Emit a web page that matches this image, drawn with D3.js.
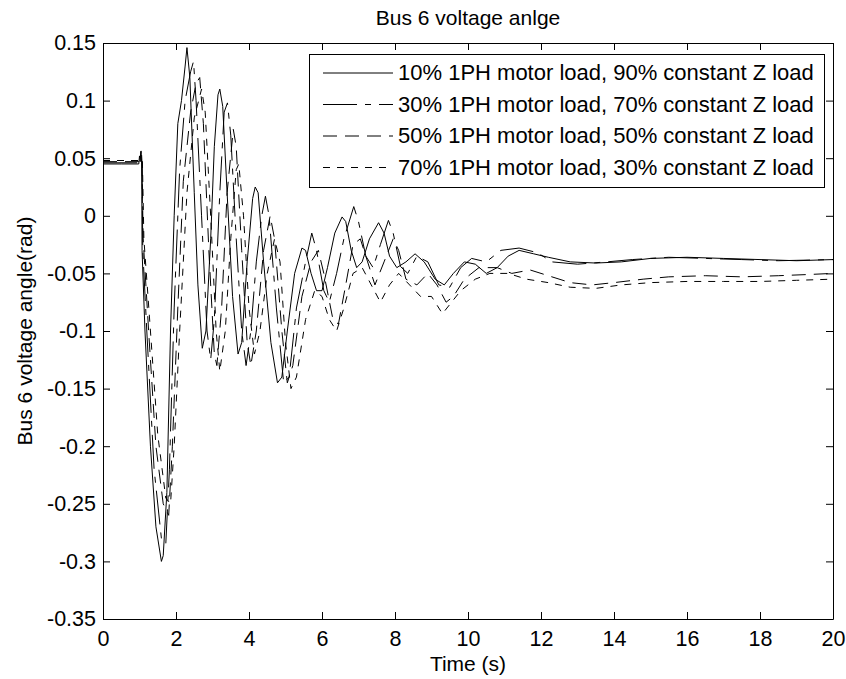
<!DOCTYPE html>
<html>
<head>
<meta charset="utf-8">
<script src="https://cdn.jsdelivr.net/npm/d3@7"></script>
<style>
  body { margin: 0; background: #fff; }
  svg { display: block; font-family: Arial, "Liberation Sans", sans-serif; }
</style>
</head>
<body>
<div id="chart"></div>
<script>
// series: [time (s), angle (rad)]
const s10 = [[0,0.045],[0.5,0.045],[0.98,0.045],[1.0,0.052],[1.02,0.047],[1.04,0.056],[1.06,0.045],[1.07,-0.03],[1.15,-0.1],[1.3,-0.2],[1.45,-0.27],[1.6,-0.30],[1.65,-0.295],[1.75,-0.24],[1.85,-0.1],[1.95,0.0],[2.05,0.08],[2.15,0.1],[2.25,0.13],[2.3,0.146],[2.38,0.12],[2.5,0.02],[2.6,-0.06],[2.72,-0.115],[2.82,-0.1],[2.95,-0.02],[3.05,0.06],[3.15,0.105],[3.2,0.11],[3.28,0.095],[3.4,0.02],[3.55,-0.07],[3.7,-0.12],[3.8,-0.11],[3.95,-0.04],[4.1,0.015],[4.17,0.025],[4.25,0.02],[4.4,-0.04],[4.6,-0.11],[4.78,-0.145],[4.9,-0.14],[5.05,-0.1],[5.25,-0.05],[5.45,-0.028],[5.55,-0.03],[5.7,-0.05],[5.85,-0.065],[6.0,-0.065],[6.15,-0.045],[6.35,-0.015],[6.55,-0.001],[6.65,-0.005],[6.8,-0.03],[6.95,-0.045],[7.1,-0.04],[7.3,-0.02],[7.55,-0.006],[7.7,-0.015],[7.85,-0.035],[8.05,-0.045],[8.3,-0.04],[8.55,-0.033],[8.8,-0.04],[9.1,-0.055],[9.35,-0.06],[9.6,-0.05],[9.9,-0.04],[10.2,-0.042],[10.5,-0.05],[10.8,-0.045],[11.1,-0.035],[11.4,-0.03],[11.8,-0.033],[12.2,-0.036],[12.8,-0.04],[13.5,-0.041],[14.2,-0.04],[15.0,-0.037],[16.0,-0.036],[17.0,-0.037],[18.0,-0.038],[19.0,-0.039],[20,-0.038]];

const s30 = [[0,0.046],[0.98,0.046],[1.02,0.05],[1.05,0.058],[1.07,0.045],[1.09,-0.03],[1.2,-0.1],[1.4,-0.22],[1.6,-0.28],[1.72,-0.285],[1.82,-0.22],[1.95,-0.08],[2.1,0.04],[2.25,0.1],[2.4,0.125],[2.48,0.134],[2.55,0.1],[2.7,0.0],[2.85,-0.1],[2.95,-0.125],[3.05,-0.09],[3.2,0.02],[3.32,0.09],[3.41,0.098],[3.5,0.07],[3.65,-0.02],[3.8,-0.1],[3.92,-0.13],[4.05,-0.1],[4.2,-0.04],[4.35,0.0],[4.45,0.017],[4.55,0.0],[4.75,-0.08],[4.95,-0.145],[5.1,-0.14],[5.3,-0.08],[5.55,-0.04],[5.72,-0.015],[5.85,-0.03],[6.05,-0.065],[6.2,-0.075],[6.4,-0.05],[6.6,-0.02],[6.87,0.008],[7.0,-0.005],[7.2,-0.035],[7.4,-0.045],[7.6,-0.025],[7.82,-0.004],[7.95,-0.015],[8.15,-0.044],[8.35,-0.05],[8.6,-0.035],[8.9,-0.04],[9.2,-0.06],[9.5,-0.062],[9.8,-0.045],[10.1,-0.037],[10.5,-0.04],[10.9,-0.03],[11.4,-0.028],[11.9,-0.032],[12.3,-0.04],[13.0,-0.042],[13.8,-0.04],[14.5,-0.038],[15.5,-0.036],[16.5,-0.037],[17.5,-0.038],[18.5,-0.039],[20,-0.038]];

const s50 = [[0,0.047],[0.98,0.047],[1.03,0.05],[1.07,0.046],[1.1,-0.02],[1.25,-0.1],[1.45,-0.2],[1.65,-0.25],[1.8,-0.26],[1.9,-0.2],[2.05,-0.08],[2.2,0.03],[2.4,0.09],[2.55,0.115],[2.65,0.12],[2.75,0.08],[2.9,-0.03],[3.05,-0.12],[3.12,-0.13],[3.25,-0.08],[3.4,0.02],[3.57,0.075],[3.65,0.06],[3.8,-0.03],[3.95,-0.11],[4.05,-0.13],[4.2,-0.1],[4.4,-0.03],[4.58,0.0],[4.7,-0.02],[4.9,-0.1],[5.05,-0.145],[5.2,-0.13],[5.45,-0.07],[5.7,-0.04],[5.9,-0.03],[6.05,-0.05],[6.3,-0.09],[6.45,-0.094],[6.65,-0.06],[6.85,-0.025],[7.05,-0.02],[7.25,-0.04],[7.45,-0.06],[7.7,-0.04],[7.95,-0.02],[8.1,-0.03],[8.3,-0.055],[8.6,-0.06],[8.9,-0.05],[9.15,-0.06],[9.4,-0.075],[9.6,-0.07],[9.9,-0.055],[10.3,-0.045],[10.8,-0.045],[11.2,-0.05],[11.7,-0.047],[12.2,-0.052],[12.8,-0.058],[13.4,-0.06],[14.0,-0.058],[14.8,-0.055],[15.5,-0.053],[16.5,-0.052],[17.5,-0.053],[18.5,-0.052],[19.3,-0.051],[20,-0.05]];

const s70 = [[0,0.048],[0.98,0.048],[1.04,0.05],[1.08,0.047],[1.12,-0.02],[1.3,-0.1],[1.5,-0.19],[1.72,-0.245],[1.85,-0.25],[1.95,-0.2],[2.1,-0.1],[2.3,0.02],[2.5,0.085],[2.7,0.11],[2.8,0.09],[2.95,0.0],[3.1,-0.1],[3.2,-0.135],[3.35,-0.1],[3.5,-0.02],[3.65,0.04],[3.72,0.045],[3.85,0.0],[4.0,-0.08],[4.15,-0.12],[4.3,-0.1],[4.5,-0.05],[4.7,-0.02],[4.85,-0.04],[5.0,-0.11],[5.15,-0.15],[5.3,-0.14],[5.55,-0.09],[5.8,-0.065],[6.0,-0.07],[6.2,-0.09],[6.4,-0.1],[6.6,-0.08],[6.85,-0.05],[7.1,-0.045],[7.35,-0.06],[7.6,-0.075],[7.85,-0.06],[8.1,-0.05],[8.4,-0.06],[8.7,-0.07],[9.0,-0.07],[9.3,-0.085],[9.55,-0.075],[9.8,-0.065],[10.2,-0.055],[10.6,-0.05],[11.1,-0.05],[11.6,-0.055],[12.2,-0.058],[12.8,-0.062],[13.5,-0.063],[14.2,-0.06],[15,-0.058],[16,-0.057],[17,-0.057],[18,-0.057],[19,-0.056],[20,-0.055]];

const seriesLabels = [
  "10% 1PH motor load, 90% constant Z load",
  "30% 1PH motor load, 70% constant Z load",
  "50% 1PH motor load, 50% constant Z load",
  "70% 1PH motor load, 30% constant Z load"
];
const xTicks = [0, 2, 4, 6, 8, 10, 12, 14, 16, 18, 20];
const yTicks = [-0.35, -0.3, -0.25, -0.2, -0.15, -0.1, -0.05, 0, 0.05, 0.1, 0.15];

const width = 846, height = 679;
const margin = {left: 103, right: 13, top: 43, bottom: 60};
const chartWidth = width - margin.left - margin.right;
const chartHeight = height - margin.top - margin.bottom;
const fontSize = "21.5px";

const series = [s10, s30, s50, s70];
const dashes = [null, "34,8,6,8", "14,8", "7,7"];

const svg = d3.select("#chart")
  .append("svg")
  .attr("width", width)
  .attr("height", height);

const xScale = d3.scaleLinear()
  .domain([0, 20])
  .range([margin.left, margin.left + chartWidth]);

const yScale = d3.scaleLinear()
  .domain([-0.35, 0.15])
  .range([margin.top + chartHeight, margin.top]);

// lines
const line = d3.line()
  .x(d => xScale(d[0]))
  .y(d => yScale(d[1]));

svg.append("g")
  .selectAll("path")
  .data(series)
  .enter()
  .append("path")
  .attr("d", line)
  .attr("fill", "none")
  .attr("stroke", "#000")
  .attr("stroke-width", 1)
  .attr("stroke-dasharray", (d, i) => dashes[i]);

// axes, MATLAB style: ticks inside on all four sides
const fmt = d => String(+d.toFixed(2));

svg.append("g")
  .attr("transform", `translate(0, ${margin.top + chartHeight})`)
  .call(d3.axisBottom(xScale).tickValues(xTicks).tickSizeInner(-7).tickSizeOuter(0).tickPadding(12).tickFormat(fmt));

svg.append("g")
  .attr("transform", `translate(0, ${margin.top})`)
  .call(d3.axisTop(xScale).tickValues(xTicks).tickSizeInner(-7).tickSizeOuter(0).tickFormat(""));

svg.append("g")
  .attr("transform", `translate(${margin.left}, 0)`)
  .call(d3.axisLeft(yScale).tickValues(yTicks).tickSizeInner(-7).tickSizeOuter(0).tickPadding(7).tickFormat(fmt));

svg.append("g")
  .attr("transform", `translate(${margin.left + chartWidth}, 0)`)
  .call(d3.axisRight(yScale).tickValues(yTicks).tickSizeInner(-7).tickSizeOuter(0).tickFormat(""));

svg.selectAll(".tick text")
  .attr("font-size", fontSize)
  .attr("font-family", "Arial, 'Liberation Sans', sans-serif")
  .attr("fill", "#000");
svg.selectAll(".domain").attr("stroke", "#000");
svg.selectAll(".tick line").attr("stroke", "#000");

// titles
svg.append("text")
  .attr("x", margin.left + chartWidth / 2)
  .attr("y", 25)
  .attr("text-anchor", "middle")
  .attr("font-size", "21px")
  .text("Bus 6 voltage anlge");

svg.append("text")
  .attr("x", margin.left + chartWidth / 2)
  .attr("y", 671)
  .attr("text-anchor", "middle")
  .attr("font-size", "21px")
  .text("Time (s)");

svg.append("text")
  .attr("transform", `translate(32, ${margin.top + chartHeight / 2}) rotate(-90)`)
  .attr("text-anchor", "middle")
  .attr("font-size", "21px")
  .text("Bus 6 voltage angle(rad)");

// legend
const legend = svg.append("g");
legend.append("rect")
  .attr("x", 309.5)
  .attr("y", 54.5)
  .attr("width", 515)
  .attr("height", 133)
  .attr("fill", "#fff")
  .attr("stroke", "#000");

const rows = legend.selectAll("g.row")
  .data(seriesLabels)
  .enter()
  .append("g")
  .attr("class", "row")
  .attr("transform", (d, i) => `translate(0, ${73 + i * 31.5})`);

rows.append("line")
  .attr("x1", 323).attr("x2", 393)
  .attr("y1", 0).attr("y2", 0)
  .attr("stroke", "#000")
  .attr("stroke-dasharray", (d, i) => dashes[i]);

rows.append("text")
  .attr("x", 398)
  .attr("y", 7)
  .attr("font-size", "22px")
  .text(d => d);
</script>
</body>
</html>
